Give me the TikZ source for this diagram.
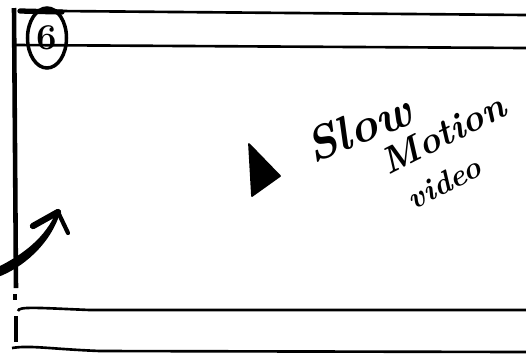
\documentclass[tikz,border=0pt]{standalone}
\usepackage{tikz}
\usetikzlibrary{shapes.geometric,positioning}
\tikzset{
  frame/.style={draw=black, line width=1.5pt},
  edge/.style={draw=black, line width=2.6pt},
  pointer/.style={draw=black, line width=2.4pt, line cap=round, line join=round},
  hand/.style={font=\bfseries\itshape, inner sep=0pt, text=black},
  badge/.style={ellipse, draw=black, line width=2pt, minimum width=0.78cm, minimum height=1.2cm, inner sep=0pt, font=\huge\bfseries}
}

\begin{document}
\begin{tikzpicture}[x=0.02cm,y=-0.02cm]
  \useasboundingbox (0,0) rectangle (526,353);
  \draw[frame] (20,11)--(60,11)--(526,15);
  \draw[line width=3pt, line cap=round] (20,11)--(62,12);
  \draw[frame] (15,45)--(526,48);
  \draw[edge] (14,8)--(16,288);
  \draw[edge] (15,294)--(15,300);
  \draw[edge] (16,316)--(16,342);
  \draw[frame] (18,311) .. controls (18,306) and (40,308) .. (90,310)--(526,310);
  \draw[frame] (12,348) .. controls (30,345) and (50,349) .. (100,351)--(526,352);
  \node[badge] (six) at (47,38) {6};
  \draw[fill=black, line width=1pt, line join=round] (249,144)--(280,176)--(252,196)--cycle;
  \node[hand, scale=2.7, rotate=22] (slow) at (358,128) {Slow};
  \node[hand, scale=2.1, rotate=27] (motion) at (443,134) {Motion};
  \node[hand, scale=1.75, rotate=27] (video) at (444,183) {video};
  \fill (-2,267) .. controls (22,255) and (46,238) .. (57,210) -- (60,213) .. controls (50,245) and (22,268) .. (-2,277) -- cycle;
  \draw[pointer, line width=3.6pt] (33,226)--(58,212);
  \draw[pointer] (58,212)--(68,233);
\end{tikzpicture}
\end{document}
